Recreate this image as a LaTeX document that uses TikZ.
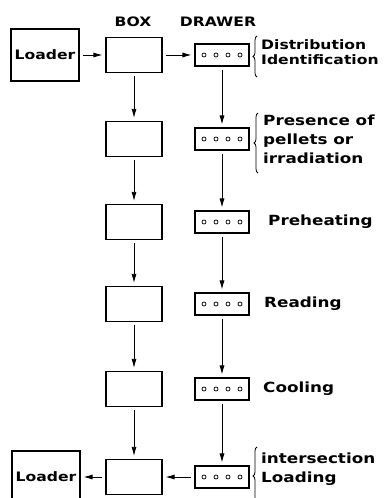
\documentclass[tikz,border=0pt]{standalone}
\usepackage{fontspec}
\setmainfont{DejaVu Sans}[FakeStretch=1.2]
\usetikzlibrary{positioning,arrows.meta,decorations.pathreplacing}
\tikzset{
  loaderbox/.style={draw, line width=1.2pt, minimum width=68pt, minimum height=52pt,
                    inner sep=0pt, font=\fontsize{13}{16}\selectfont\bfseries},
  boxnode/.style={draw, line width=1.2pt, minimum width=56pt, minimum height=35pt, inner sep=0pt},
  drawernode/.style={draw, line width=1.1pt, minimum width=54pt, minimum height=22pt, inner sep=0pt},
  headtext/.style={font=\fontsize{13}{15}\selectfont\bfseries, inner sep=0pt},
  steptext/.style={font=\fontsize{14}{19}\selectfont\bfseries, align=left, anchor=west, inner sep=0pt},
  arr/.style={-{Latex[length=9pt,width=5pt]}, line width=0.8pt, shorten >=3pt, shorten <=3pt},
  bracebar/.style={decorate, decoration={brace, amplitude=4pt}, line width=0.8pt}
}

\begin{document}
\begin{tikzpicture}[x=1pt, y=-1pt]
  \useasboundingbox (0,0) rectangle (383,498);
  \clip (0,0) rectangle (383,498);

  % column heads
  \node[headtext] (boxhead) at (133,22) {BOX};
  \node[headtext] (drawerhead) at (218,22) {DRAWER};

  % loaders
  \node[loaderbox] (loadin) at (45,55) {Loader};
  \node[loaderbox] (loadout) at (46,477) {Loader};

  % boxes and drawers, one row per step
  \foreach \i/\y in {1/55, 2/139, 3/222, 4/304, 5/389, 6/477}{
    \node[boxnode] (b\i) at (134,\y) {};
    \node[drawernode] (d\i) at (222,\y) {};
    \foreach \d in {-18,-6,6,18}
      \draw[line width=0.7pt] ([xshift=\d pt]d\i.center) circle (2pt);
  }

  % flow
  \draw[arr] (loadin) -- (b1);
  \draw[arr] (b1) -- (d1);
  \foreach \i/\j in {1/2, 2/3, 3/4, 4/5, 5/6}{
    \draw[arr] (b\i) -- (b\j);
    \draw[arr] (d\i) -- (d\j);
  }
  \draw[arr] (d6) -- (b6);
  \draw[arr] (b6) -- (loadout);

  % step labels
  \node[steptext, font=\fontsize{13}{15}\selectfont\bfseries] (lab1) at (261,52)
       {Distribution\\Identification};
  \node[steptext] (lab2) at (263,139) {Presence of\\pellets or\\irradiation};
  \node[steptext] (lab3) at (268,222) {Preheating};
  \node[steptext] (lab4) at (264,304) {Reading};
  \node[steptext] (lab5) at (263,389) {Cooling};
  \node[steptext] (lab6) at (261,469) {intersection\\Loading};

  % braces
  \coordinate (br1a) at (257,77);  \coordinate (br1b) at (257,36);
  \coordinate (br2a) at (258,173); \coordinate (br2b) at (258,113);
  \coordinate (br6a) at (257,505); \coordinate (br6b) at (257,447);
  \draw[bracebar] (br1a) -- (br1b);
  \draw[bracebar] (br2a) -- (br2b);
  \draw[bracebar] (br6a) -- (br6b);
\end{tikzpicture}
\end{document}
